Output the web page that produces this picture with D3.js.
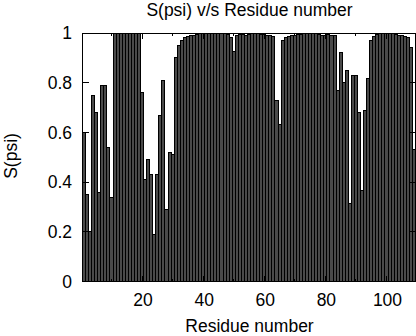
<!DOCTYPE html>
<html>
<head>
<meta charset="utf-8">
<script src="https://cdn.jsdelivr.net/npm/d3@7"></script>
<style>
  html, body { margin: 0; padding: 0; background: #fff; }
  svg { display: block; }
  text { font-family: "Liberation Sans", Arial, Helvetica, sans-serif; fill: #000; }
</style>
</head>
<body>
<svg id="chart" width="416" height="336"></svg>
<script>
// ---- data ----
const titleText = "S(psi) v/s Residue number";
const xLabel = "Residue number";
const yLabel = "S(psi)";
const residues = d3.range(1, 110);
const spsi = [
  0.60, 0.35, 0.20, 0.75, 0.68, 0.36, 0.79, 0.79, 0.54, 0.34,   // 1-10
  1.00, 0.998, 1.00, 0.998, 1.00, 1.00, 0.998, 1.00, 0.998, 0.76, // 11-20
  0.41, 0.49, 0.43, 0.19, 0.43, 0.67, 0.81, 0.29, 0.52, 0.51,   // 21-30
  0.90, 0.95, 0.97, 0.98, 0.985, 0.99, 0.99, 0.995, 0.998, 0.998, // 31-40
  1.00, 0.998, 1.00, 1.00, 0.998, 1.00, 1.00, 0.995, 0.98, 0.925, // 41-50
  0.99, 0.995, 0.995, 0.99, 0.995, 0.998, 1.00, 0.998, 0.995, 0.995, // 51-60
  0.99, 0.99, 0.985, 0.73, 0.63, 0.97, 0.98, 0.985, 0.99, 0.99,  // 61-70
  0.995, 0.995, 1.00, 0.998, 1.00, 1.00, 0.998, 0.995, 0.99, 0.99, // 71-80
  0.995, 0.99, 0.99, 0.77, 0.92, 0.80, 0.85, 0.315, 0.83, 0.83, // 81-90
  0.68, 0.365, 0.69, 0.815, 0.968, 0.985, 0.995, 1.00, 0.998, 1.00, // 91-100
  1.00, 0.998, 0.995, 0.99, 0.99, 0.985, 0.98, 0.94, 0.53       // 101-109
];
const yTicks = [0, 0.2, 0.4, 0.6, 0.8, 1];
const yTickLabels = ["0", "0.2", "0.4", "0.6", "0.8", "1"];
const xMajorTicks = [20, 40, 60, 80, 100];
const xMinorTicks = [10, 30, 50, 70, 90];

// ---- layout ----
const svg = d3.select("#chart");
const pLeft = 82.5, pRight = 415.5, pTop = 33, pBottom = 281.5;
const x = d3.scaleLinear().domain([0.5, 109.5]).range([pLeft, pRight]);
const y = d3.scaleLinear().domain([0, 1]).range([pBottom, pTop]);
const fs = 17.5;

// bars
svg.append("g")
  .selectAll("rect")
  .data(residues)
  .join("rect")
  .attr("x", (d) => x(d - 0.5))
  .attr("width", (d) => x(d + 0.5) - x(d - 0.5))
  .attr("y", (d, i) => y(spsi[i]))
  .attr("height", (d, i) => y(0) - y(spsi[i]))
  .attr("fill", "#4a4a4a")
  .attr("stroke", "#000")
  .attr("stroke-width", 1)
  .attr("shape-rendering", "crispEdges");

// ticks (inside, mirrored)
const tickG = svg.append("g").attr("stroke", "#000").attr("stroke-width", 1).attr("shape-rendering", "crispEdges");
yTicks.forEach((t) => {
  tickG.append("line").attr("x1", pLeft).attr("x2", pLeft + 6).attr("y1", y(t)).attr("y2", y(t));
  tickG.append("line").attr("x1", pRight).attr("x2", pRight - 6).attr("y1", y(t)).attr("y2", y(t));
});
xMajorTicks.forEach((t) => {
  tickG.append("line").attr("x1", x(t)).attr("x2", x(t)).attr("y1", pBottom).attr("y2", pBottom - 6);
  tickG.append("line").attr("x1", x(t)).attr("x2", x(t)).attr("y1", pTop).attr("y2", pTop + 6);
});
xMinorTicks.forEach((t) => {
  tickG.append("line").attr("x1", x(t)).attr("x2", x(t)).attr("y1", pBottom).attr("y2", pBottom - 3);
  tickG.append("line").attr("x1", x(t)).attr("x2", x(t)).attr("y1", pTop).attr("y2", pTop + 3);
});

// frame
svg.append("rect")
  .attr("x", pLeft).attr("y", pTop)
  .attr("width", pRight - pLeft).attr("height", pBottom - pTop)
  .attr("fill", "none").attr("stroke", "#000").attr("stroke-width", 1)
  .attr("shape-rendering", "crispEdges");

// y tick labels
svg.append("g").selectAll("text").data(yTicks).join("text")
  .attr("x", 72).attr("y", (d) => y(d))
  .attr("dy", "0.35em")
  .attr("text-anchor", "end")
  .attr("font-size", fs)
  .text((d, i) => yTickLabels[i]);

// x tick labels
svg.append("g").selectAll("text").data(xMajorTicks).join("text")
  .attr("x", (d) => x(d) + 1).attr("y", 306)
  .attr("text-anchor", "middle")
  .attr("font-size", fs)
  .text((d) => d);

// title
svg.append("text").attr("x", 249.5).attr("y", 15.5)
  .attr("text-anchor", "middle").attr("font-size", fs).text(titleText);

// x label
svg.append("text").attr("x", 249.5).attr("y", 332)
  .attr("text-anchor", "middle").attr("font-size", fs).text(xLabel);

// y label
svg.append("text")
  .attr("transform", "translate(17,156) rotate(-90)")
  .attr("text-anchor", "middle").attr("font-size", fs).text(yLabel);
</script>
</body>
</html>
